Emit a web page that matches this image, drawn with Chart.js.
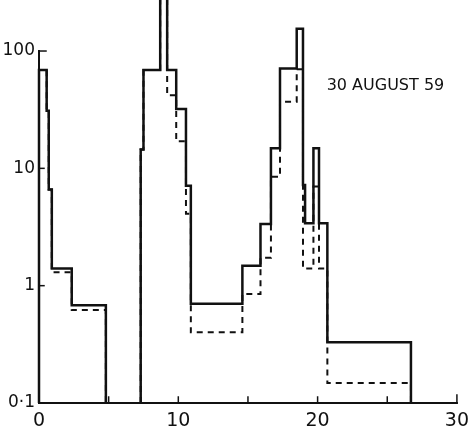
<!DOCTYPE html>
<html>
<head>
<meta charset="utf-8">
<script src="https://cdn.jsdelivr.net/npm/chart.js@4.4.1/dist/chart.umd.min.js"></script>
<style>
  html, body { margin: 0; padding: 0; background: #fff; }
  #wrap { width: 476px; height: 432px; }
</style>
</head>
<body>
<div id="wrap"><canvas id="chart" width="476" height="432"></canvas></div>
<script>
// early burst: bin edges and the two traces
const earlyEdges = [0, 0.55, 0.7, 0.92, 2.35, 4.8];
const earlySolid = [69, 31, 6.6, 1.4, 0.68];
const earlyDashed = [69, 31, 6.6, 1.3, 0.62];

// main event
const mainEdges = [7.3, 7.5, 8.7, 9.2, 9.85, 10.55, 10.9, 14.6, 15.9, 16.65, 17.3, 18.5, 18.95, 19.1, 19.7, 20.1, 20.7, 26.7];
const mainSolid = [14.5, 69, 1000, 69, 32, 7.1, 0.70, 1.48, 3.35, 14.8, 71, 155, 7.2, 3.4, 14.8, 3.4, 0.33];
const mainDashed = [14.5, 69, 1000, 42, 17, 4.1, 0.40, 0.85, 1.73, 8.5, 37, 70, 1.4, 1.4, 7, 1.4, 0.148];

const xTicks = [0, 5, 10, 15, 20, 25, 30];
const xTickLabels = ['0', '', '10', '', '20', '', '30'];
const yTicks = [0.1, 1, 10, 100];
const yTickLabels = ['0·1', '1', '10', '100'];

const dateLabel = '30 AUGUST 59';
const dateLabelAt = [20.65, 50]; // x, y in data units

const FLOOR = 0.1;
const INK = '#111';
const FONT = "'DejaVu Sans', sans-serif";

// turn bins into a stepped outline that starts and ends on the floor
function outline(edges, values) {
  const pts = [{ x: edges[0], y: FLOOR }];
  values.forEach((v, i) => {
    pts.push({ x: edges[i], y: v });
    pts.push({ x: edges[i + 1], y: v });
  });
  pts.push({ x: edges[edges.length - 1], y: FLOOR });
  return pts;
}

function joined(a, b) {
  return a.concat([{ x: (a[a.length - 1].x + b[0].x) / 2, y: null }], b);
}

const solidPts = joined(outline(earlyEdges, earlySolid), outline(mainEdges, mainSolid));
const dashedPts = joined(outline(earlyEdges, earlyDashed), outline(mainEdges, mainDashed));

// axes drawn by hand: ticks point inward like the original
const axesPlugin = {
  id: 'axes',
  afterDatasetsDraw(chart) {
    const { ctx, scales: { x, y } } = chart;
    const y0 = y.getPixelForValue(FLOOR);
    const x0 = x.getPixelForValue(0);
    ctx.save();
    ctx.strokeStyle = INK;
    ctx.lineWidth = 2;
    ctx.lineCap = 'square';
    ctx.beginPath();
    ctx.moveTo(x0, y.getPixelForValue(yTicks[yTicks.length - 1]));
    ctx.lineTo(x0, y0);
    ctx.lineTo(x.getPixelForValue(xTicks[xTicks.length - 1]), y0);
    ctx.stroke();
    ctx.lineWidth = 1.5;
    xTicks.forEach(t => {
      const px = x.getPixelForValue(t);
      ctx.beginPath();
      ctx.moveTo(px, y0);
      ctx.lineTo(px, y0 - (t === 30 ? 8 : 6));
      ctx.stroke();
    });
    yTicks.forEach(t => {
      const py = y.getPixelForValue(t);
      ctx.beginPath();
      ctx.moveTo(x0, py);
      ctx.lineTo(x0 + (t === 100 ? 7 : 5), py);
      ctx.stroke();
    });
    ctx.fillStyle = INK;
    ctx.font = '16px ' + FONT;
    ctx.textBaseline = 'middle';
    ctx.fillText(dateLabel, x.getPixelForValue(dateLabelAt[0]), y.getPixelForValue(dateLabelAt[1]));
    ctx.restore();
  }
};

new Chart(document.getElementById('chart'), {
  type: 'line',
  data: {
    datasets: [
      {
        label: 'dashed',
        data: dashedPts,
        borderColor: INK,
        borderWidth: 2,
        borderDash: [6, 5],
        pointRadius: 0,
        fill: false,
        spanGaps: false,
        clip: false
      },
      {
        label: 'solid',
        data: solidPts,
        borderColor: INK,
        borderWidth: 2.5,
        pointRadius: 0,
        fill: false,
        spanGaps: false,
        clip: false
      }
    ]
  },
  options: {
    responsive: false,
    animation: false,
    layout: { padding: { top: 0, right: 2, left: 0, bottom: 0 } },
    plugins: {
      legend: { display: false },
      tooltip: { enabled: false }
    },
    scales: {
      x: {
        type: 'linear',
        min: 0,
        max: 30,
        grid: { display: false, drawTicks: false },
        border: { display: false },
        afterBuildTicks: s => { s.ticks = xTicks.map(v => ({ value: v })); },
        afterFit: s => { s.height = 29; },
        ticks: {
          autoSkip: false,
          maxRotation: 0,
          padding: 7,
          color: INK,
          font: { family: FONT, size: 19 },
          callback: (v) => xTickLabels[xTicks.indexOf(v)]
        }
      },
      y: {
        type: 'logarithmic',
        min: 0.1,
        max: 206,
        grid: { display: false, drawTicks: false },
        border: { display: false },
        afterBuildTicks: s => { s.ticks = yTicks.map(v => ({ value: v })); },
        afterFit: s => { s.width = 39; },
        ticks: {
          autoSkip: false,
          padding: 4,
          color: INK,
          font: { family: FONT, size: 17 },
          callback: (v) => yTickLabels[yTicks.indexOf(v)]
        }
      }
    }
  },
  plugins: [axesPlugin]
});
</script>
</body>
</html>
